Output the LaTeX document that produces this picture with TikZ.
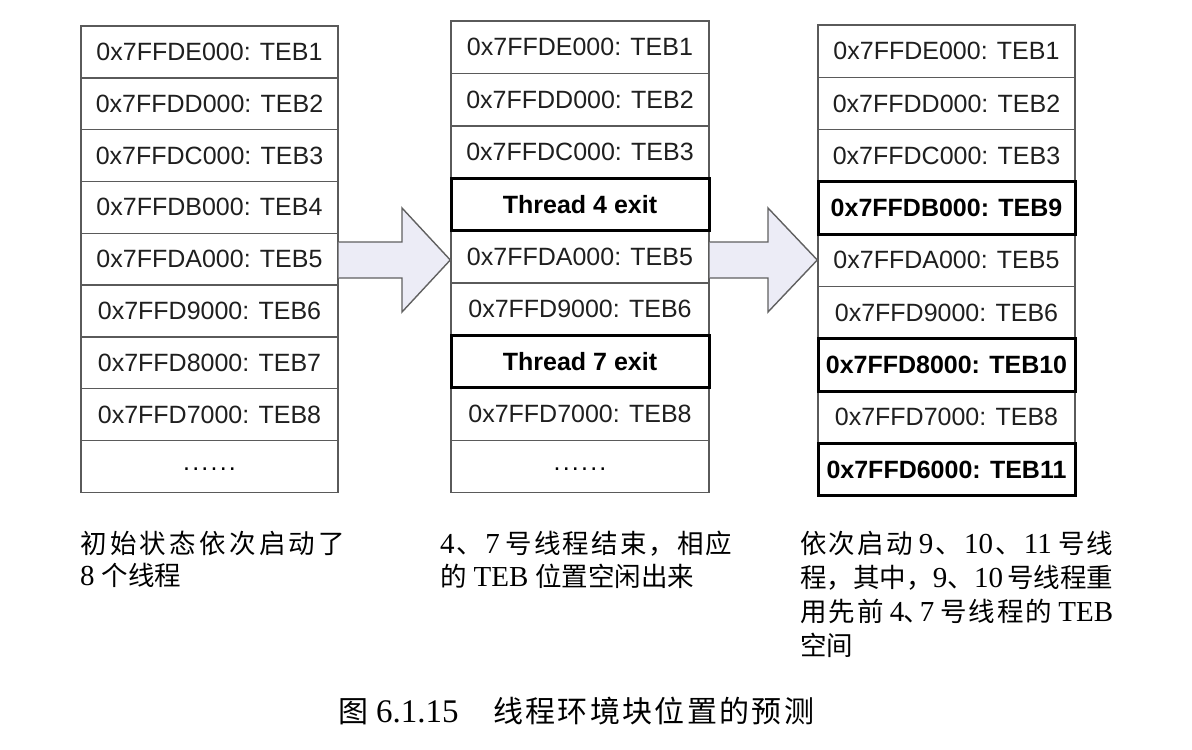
\documentclass[tikz,border=0pt]{standalone}
\usepackage{fontspec}
\setmainfont{Liberation Serif}
\newfontfamily\cjk{Noto Sans CJK SC}
\newfontfamily\arialf{Liberation Sans}
\definecolor{arrowfill}{HTML}{ECECF6}
\definecolor{cellline}{HTML}{5A5A5A}
\newcommand\sixdots{.\kern2.2pt.\kern2.2pt.\kern2.2pt.\kern2.2pt.\kern2.2pt.}
\newcommand\lat[1]{{\rmfamily\fontsize{29}{33}\selectfont #1}}
\newcommand\figlat[1]{{\rmfamily\fontsize{33}{36}\selectfont #1}}
\newcommand\capgap{\hspace{4pt}}
\newcommand\widegap{\hspace{7pt}}
\begin{document}
\begin{tikzpicture}[x=1pt,y=-1pt,
  cell/.style={draw=cellline, line width=1.4pt, minimum width=257pt, minimum height=51.8pt,
    inner sep=0pt, fill=white, font=\arialf\fontsize{25}{30}\selectfont, text=black!88},
  boldcell/.style={cell, draw=black, line width=3pt,
    font=\arialf\bfseries\fontsize{25}{30}\selectfont, text=black},
  arrowbody/.style={draw=gray!75!black, line width=1.4pt, line join=miter},
  captext/.style={anchor=base west, inner sep=0pt, font=\cjk\fontsize{26.5}{33}\selectfont, text=black},
  figcap/.style={anchor=base west, inner sep=0pt, font=\cjk\fontsize{30}{36}\selectfont, text=black}
]
\useasboundingbox (0,0) rectangle (1192,750);

% ---------- left column ----------
\foreach \i/\t in {1/0x7FFDE000: TEB1, 2/0x7FFDD000: TEB2, 3/0x7FFDC000: TEB3,
                   4/0x7FFDB000: TEB4, 5/0x7FFDA000: TEB5, 6/0x7FFD9000: TEB6,
                   7/0x7FFD8000: TEB7, 8/0x7FFD7000: TEB8}
  \node[cell] (L\i) at (209.5,{26+51.8*(\i-0.5)}) {\t};
\node[cell] (L9) at (209.5,{26+51.8*8.5}) {};
\node[inner sep=0pt, font=\arialf\fontsize{25}{30}\selectfont] (Ld) at ([yshift=-3pt]L9.center) {\sixdots};

% ---------- middle column ----------
\foreach \i/\t in {1/0x7FFDE000: TEB1, 2/0x7FFDD000: TEB2, 3/0x7FFDC000: TEB3,
                   5/0x7FFDA000: TEB5, 6/0x7FFD9000: TEB6, 8/0x7FFD7000: TEB8}
  \node[cell, minimum width=258pt, minimum height=52.4pt] (M\i) at (580,{21+52.4*(\i-0.5)}) {\t};
\node[cell, minimum width=258pt, minimum height=52.4pt] (M9) at (580,{21+52.4*8.5}) {};
\node[inner sep=0pt, font=\arialf\fontsize{25}{30}\selectfont] (Md) at ([yshift=-3pt]M9.center) {\sixdots};
\node[boldcell, minimum width=258pt, minimum height=52.4pt] (M4) at (580,{21+52.4*3.5}) {Thread 4 exit};
\node[boldcell, minimum width=258pt, minimum height=52.4pt] (M7) at (580,{21+52.4*6.5}) {Thread 7 exit};

% ---------- right column ----------
\foreach \i/\t in {1/0x7FFDE000: TEB1, 2/0x7FFDD000: TEB2, 3/0x7FFDC000: TEB3,
                   5/0x7FFDA000: TEB5, 6/0x7FFD9000: TEB6, 8/0x7FFD7000: TEB8}
  \node[cell, minimum height=52.3pt] (R\i) at (946.5,{25+52.3*(\i-0.5)}) {\t};
\node[boldcell, minimum height=52.3pt] (R4) at (946.5,{25+52.3*3.5}) {0x7FFDB000: TEB9};
\node[boldcell, minimum height=52.3pt] (R7) at (946.5,{25+52.3*6.5}) {0x7FFD8000: TEB10};
\node[boldcell, minimum height=52.3pt] (R9) at (946.5,{25+52.3*8.5}) {0x7FFD6000: TEB11};

% ---------- arrows ----------
\coordinate (a1t) at (0,242);
\coordinate (a1b) at (0,278);
\coordinate (tip) at (0,260);
\fill[arrowfill] (L5.east |- a1t) -- (402,242) -- (402,208) -- (M5.west |- tip)
  -- (402,312) -- (402,278) -- (L5.east |- a1b) -- cycle;
\draw[arrowbody] (L5.east |- a1t) -- (402,242) -- (402,208) -- (M5.west |- tip)
  -- (402,312) -- (402,278) -- (L5.east |- a1b);
\fill[arrowfill] (M5.east |- a1t) -- (768,242) -- (768,208) -- (R5.west |- tip)
  -- (768,312) -- (768,278) -- (M5.east |- a1b) -- cycle;
\draw[arrowbody] (M5.east |- a1t) -- (768,242) -- (768,208) -- (R5.west |- tip)
  -- (768,312) -- (768,278) -- (M5.east |- a1b);

% ---------- captions ----------
\node[captext] (lc1) at (80,553) {\hbox to 265pt{初\hfil 始\hfil 状\hfil 态\hfil 依\hfil 次\hfil 启\hfil 动\hfil 了}};
\node[captext] (lc2) at (80,585) {\lat{8}\widegap 个线程};

\node[captext] (mc1) at (440,553) {\hbox to 292pt{\lat{4}\hfil 、\hfil\lat{7}\capgap\hfil 号\hfil 线\hfil 程\hfil 结\hfil 束\hfil ，\hfil 相\hfil 应}};
\node[captext] (mc2) at (440,586) {的\widegap\lat{TEB}\widegap 位置空闲出来};

\node[captext] (rc1) at (800,553) {\hbox to 313pt{依\hfil 次\hfil 启\hfil 动\capgap\hfil\lat{9}\hfil 、\hfil\lat{10}\hfil 、\hfil\lat{11}\capgap\hfil 号\hfil 线}};
\node[captext] (rc2) at (800,587) {\hbox to 313pt{程\hfil ，\hfil 其\hfil 中\hfil ，\hfil\lat{9}\hfil 、\hfil\lat{10}\capgap\hfil 号\hfil 线\hfil 程\hfil 重}};
\node[captext] (rc3) at (800,621) {\hbox to 313pt{用\hfil 先\hfil 前\capgap\hfil\lat{4}\kern-1pt、\kern-10pt\lat{7}\capgap\hfil 号\hfil 线\hfil 程\hfil 的\capgap\hfil\lat{TEB}}};
\node[captext] (rc4) at (800,655) {空间};

\node[figcap] (fc1) at (338,722) {图};
\node[figcap] (fc2) at (376,722) {\figlat{6.1.15}};
\node[figcap] (fc3) at (493,722) {\hbox to 321pt{线\hfil 程\hfil 环\hfil 境\hfil 块\hfil 位\hfil 置\hfil 的\hfil 预\hfil 测}};
\end{tikzpicture}
\end{document}
